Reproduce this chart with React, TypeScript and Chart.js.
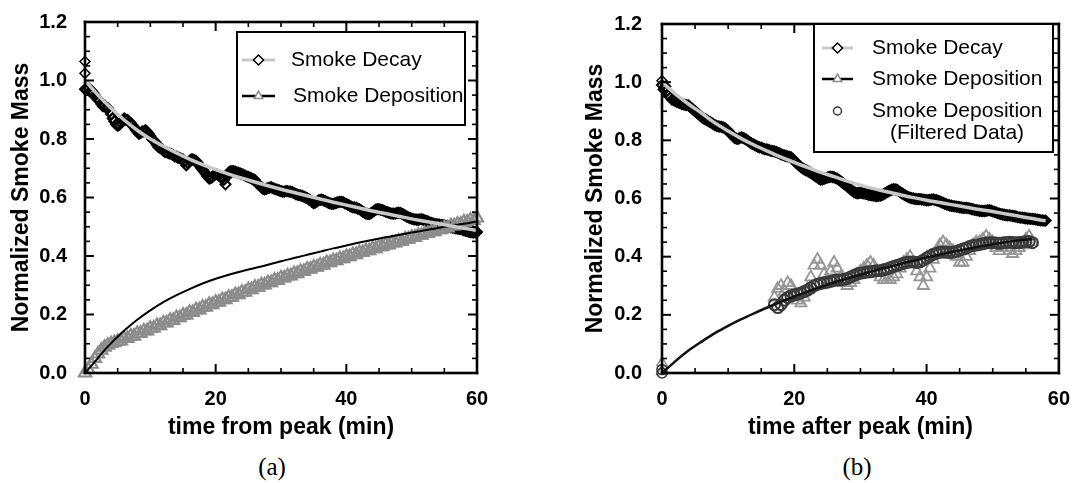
import React, { useEffect, useRef } from "react";
import { Chart, registerables } from "chart.js";
import { drawPoint } from "chart.js/helpers";

Chart.register(...registerables);

// ---------------- DATA ----------------
const X_MIN = 0;
const X_MAX = 60;
const Y_MIN = 0;
const Y_MAX = 1.2;
const X_MAJOR = 20;
const X_MINOR = 5;
const Y_MAJOR = 0.2;
const Y_MINOR = 0.05;

const Y_TITLE = "Normalized Smoke Mass";
const X_TITLE_A = "time from peak (min)";
const X_TITLE_B = "time after peak (min)";
const LEGEND_A = ["Smoke Decay", "Smoke Deposition"];
const LEGEND_B = ["Smoke Decay", "Smoke Deposition", "Smoke Deposition", "(Filtered Data)"];
const CAPTIONS = ["(a)", "(b)"];

// Panel (a): measured data, two interleaved reading sets, each every 0.5 min
const SAMPLE_STEP = 0.5;
const decayA = [
  0.97, 0.975, 0.965, 0.95, 0.935, 0.92, 0.915, 0.905, 0.885, 0.86,
  0.845, 0.855, 0.87, 0.865, 0.855, 0.84, 0.825, 0.82, 0.825, 0.825,
  0.81, 0.795, 0.78, 0.77, 0.76, 0.755, 0.75, 0.745, 0.74, 0.735,
  0.73, 0.71, 0.725, 0.73, 0.725, 0.71, 0.695, 0.68, 0.665, 0.67,
  0.68, 0.675, 0.665, 0.645, 0.685, 0.69, 0.688, 0.685, 0.68, 0.675,
  0.67, 0.665, 0.66, 0.645, 0.635, 0.628, 0.632, 0.635, 0.63, 0.626,
  0.622, 0.62, 0.622, 0.62, 0.615, 0.61, 0.607, 0.603, 0.598, 0.59,
  0.58, 0.586, 0.592, 0.59, 0.585, 0.58, 0.578, 0.582, 0.585, 0.584,
  0.578, 0.572, 0.566, 0.565, 0.56, 0.552, 0.545, 0.543, 0.55, 0.558,
  0.56, 0.557, 0.552, 0.548, 0.545, 0.545, 0.548, 0.545, 0.538, 0.532,
  0.528, 0.525, 0.524, 0.526, 0.522, 0.518, 0.513, 0.51, 0.508, 0.506,
  0.505, 0.502, 0.498, 0.496, 0.494, 0.492, 0.488, 0.485, 0.482, 0.48,
  0.482,
];
const decayA2Start = 0.25;
const decayA2 = [
  0.968, 0.962, 0.958, 0.94, 0.93, 0.912, 0.908, 0.895, 0.87, 0.85,
  0.848, 0.862, 0.866, 0.858, 0.848, 0.832, 0.818, 0.826, 0.83, 0.818,
  0.8, 0.79, 0.772, 0.766, 0.755, 0.752, 0.748, 0.74, 0.736, 0.732,
  0.722, 0.718, 0.73, 0.728, 0.718, 0.702, 0.688, 0.672, 0.666, 0.676,
  0.678, 0.67, 0.66, 0.672, 0.69, 0.69, 0.686, 0.682, 0.678, 0.672,
  0.668, 0.662, 0.652, 0.64, 0.63, 0.63, 0.634, 0.632, 0.628, 0.624,
  0.62, 0.622, 0.62, 0.618, 0.612, 0.608, 0.605, 0.6, 0.594, 0.585,
  0.583, 0.59, 0.593, 0.588, 0.582, 0.578, 0.58, 0.584, 0.585, 0.58,
  0.575, 0.569, 0.566, 0.562, 0.556, 0.548, 0.544, 0.546, 0.554, 0.56,
  0.558, 0.555, 0.55, 0.546, 0.545, 0.547, 0.547, 0.542, 0.535, 0.53,
  0.526, 0.524, 0.525, 0.524, 0.52, 0.515, 0.511, 0.509, 0.507, 0.505,
  0.503, 0.5, 0.497, 0.495, 0.493, 0.49, 0.486, 0.483, 0.481, 0.481,
];
const decayAStartT = [0, 0];
const decayAStart = [1.065, 1.025];

const depositionA = [
  0.0, 0.012, 0.03, 0.05, 0.065, 0.078, 0.088, 0.095, 0.1, 0.104,
  0.108, 0.11, 0.118, 0.118, 0.126, 0.126, 0.135, 0.135, 0.144, 0.144,
  0.153, 0.153, 0.162, 0.162, 0.171, 0.171, 0.18, 0.18, 0.189, 0.189,
  0.198, 0.198, 0.207, 0.207, 0.216, 0.216, 0.225, 0.225, 0.234, 0.234,
  0.242, 0.242, 0.251, 0.251, 0.259, 0.259, 0.268, 0.268, 0.276, 0.276,
  0.285, 0.285, 0.293, 0.293, 0.301, 0.301, 0.309, 0.309, 0.317, 0.317,
  0.325, 0.325, 0.332, 0.332, 0.34, 0.34, 0.347, 0.347, 0.355, 0.355,
  0.362, 0.362, 0.369, 0.369, 0.377, 0.377, 0.384, 0.384, 0.391, 0.391,
  0.398, 0.398, 0.405, 0.405, 0.412, 0.412, 0.418, 0.418, 0.425, 0.425,
  0.432, 0.432, 0.438, 0.438, 0.445, 0.445, 0.451, 0.451, 0.458, 0.458,
  0.464, 0.464, 0.471, 0.471, 0.477, 0.477, 0.483, 0.483, 0.49, 0.49,
  0.496, 0.496, 0.503, 0.503, 0.509, 0.509, 0.516, 0.516, 0.522, 0.522,
  0.53,
];

// Panel (a): fitted curves
const fitDecayATime = [0, 2, 4, 6, 8, 10, 12, 14, 16, 18, 20, 22, 24, 26, 28, 30, 32, 34, 36, 38, 40, 42, 44, 46, 48, 50, 52, 54, 56, 58, 60];
const fitDecayA = [1.0, 0.95, 0.905, 0.865, 0.83, 0.8, 0.775, 0.752, 0.731, 0.712, 0.695, 0.68, 0.666, 0.653, 0.64, 0.628, 0.617, 0.606, 0.595, 0.584, 0.574, 0.564, 0.554, 0.545, 0.536, 0.527, 0.519, 0.511, 0.503, 0.495, 0.487];
const fitDepATime = [0, 1, 2, 3, 4, 5, 6, 8, 10, 12, 14, 16, 18, 20, 22, 24, 26, 28, 30, 32, 34, 36, 38, 40, 42, 44, 46, 48, 50, 52, 54, 56, 58, 60];
const fitDepA = [0, 0.025, 0.052, 0.078, 0.102, 0.124, 0.145, 0.182, 0.214, 0.242, 0.266, 0.287, 0.306, 0.322, 0.336, 0.348, 0.359, 0.37, 0.382, 0.393, 0.404, 0.415, 0.426, 0.436, 0.446, 0.455, 0.464, 0.472, 0.48, 0.488, 0.496, 0.503, 0.51, 0.518];

// Panel (b): measured decay, two interleaved sets every 0.5 min
const decayB = [
  0.99, 0.985, 0.955, 0.94, 0.935, 0.93, 0.925, 0.922, 0.92, 0.91,
  0.9, 0.89, 0.88, 0.873, 0.866, 0.86, 0.852, 0.848, 0.846, 0.842,
  0.832, 0.82, 0.808, 0.805, 0.81, 0.806, 0.798, 0.79, 0.784, 0.778,
  0.775, 0.77, 0.768, 0.764, 0.762, 0.758, 0.752, 0.748, 0.745, 0.742,
  0.73, 0.718, 0.708, 0.7, 0.695, 0.688, 0.68, 0.672, 0.665, 0.668,
  0.672, 0.675, 0.673, 0.668, 0.66, 0.65, 0.642, 0.632, 0.622, 0.618,
  0.62, 0.618, 0.615, 0.612, 0.61, 0.608, 0.61, 0.615, 0.622, 0.628,
  0.632, 0.63, 0.622, 0.615, 0.608, 0.603, 0.6, 0.598, 0.598, 0.596,
  0.594, 0.595, 0.597, 0.594, 0.59, 0.585, 0.58, 0.576, 0.574, 0.572,
  0.57, 0.568, 0.568, 0.566, 0.563, 0.56, 0.558, 0.557, 0.558, 0.56,
  0.556, 0.552, 0.548, 0.545, 0.543, 0.542, 0.54, 0.538, 0.535, 0.534,
  0.532, 0.531, 0.53, 0.528, 0.526, 0.525,
  0.524,
];
const decayB2Start = 0.25;
const decayB2 = [
  0.975, 0.97, 0.948, 0.938, 0.932, 0.928, 0.924, 0.921, 0.915, 0.905,
  0.895, 0.885, 0.876, 0.87, 0.863, 0.856, 0.85, 0.847, 0.844, 0.837,
  0.826, 0.814, 0.806, 0.808, 0.808, 0.802, 0.794, 0.787, 0.781, 0.776,
  0.772, 0.769, 0.766, 0.763, 0.76, 0.755, 0.75, 0.746, 0.743, 0.736,
  0.724, 0.713, 0.704, 0.697, 0.691, 0.684, 0.676, 0.668, 0.666, 0.67,
  0.674, 0.674, 0.67, 0.664, 0.655, 0.646, 0.637, 0.627, 0.62, 0.619,
  0.619, 0.616, 0.613, 0.611, 0.609, 0.609, 0.612, 0.618, 0.625, 0.63,
  0.631, 0.626, 0.618, 0.611, 0.605, 0.601, 0.599, 0.598, 0.597, 0.595,
  0.594, 0.596, 0.595, 0.592, 0.587, 0.582, 0.578, 0.575, 0.573, 0.571,
  0.569, 0.568, 0.567, 0.564, 0.561, 0.559, 0.557, 0.557, 0.559, 0.558,
  0.554, 0.55, 0.546, 0.544, 0.542, 0.541, 0.539, 0.536, 0.534, 0.533,
  0.531, 0.53, 0.529, 0.527, 0.525, 0.524,
];
const decayBStartT = [0];
const decayBStart = [1.005];

// Panel (b): deposition from t = 17 min, every 0.5 min
const depBStart = 17;
const depositionB = [
  0.26, 0.29, 0.3, 0.28, 0.31, 0.3, 0.27, 0.25, 0.24, 0.26,
  0.29, 0.33, 0.37, 0.39, 0.37, 0.34, 0.32, 0.35, 0.38, 0.36,
  0.33, 0.31, 0.3, 0.31, 0.32, 0.34, 0.35, 0.36, 0.37, 0.38,
  0.37, 0.35, 0.33, 0.32, 0.32, 0.32, 0.33, 0.34, 0.36, 0.38,
  0.39, 0.4, 0.38, 0.35, 0.33, 0.3, 0.33, 0.36, 0.39, 0.42,
  0.44, 0.45, 0.44, 0.43, 0.42, 0.4, 0.38, 0.38, 0.4, 0.42,
  0.44, 0.45, 0.45, 0.46, 0.47, 0.46, 0.45, 0.43, 0.42, 0.43,
  0.44, 0.42, 0.41, 0.42, 0.43, 0.44, 0.46, 0.47, 0.45,
];
const filteredB = [
  0.235, 0.225, 0.235, 0.25, 0.26, 0.265, 0.268, 0.272, 0.275, 0.28,
  0.285, 0.292, 0.3, 0.305, 0.308, 0.31, 0.312, 0.315, 0.318, 0.32,
  0.32, 0.322, 0.325, 0.33, 0.335, 0.34, 0.343, 0.345, 0.347, 0.348,
  0.35, 0.352, 0.352, 0.355, 0.358, 0.362, 0.366, 0.37, 0.373, 0.377,
  0.38, 0.382, 0.382, 0.38, 0.382, 0.388, 0.395, 0.402, 0.408, 0.412,
  0.415, 0.416, 0.415, 0.414, 0.415, 0.418, 0.422, 0.426, 0.43, 0.435,
  0.438, 0.44, 0.442, 0.444, 0.447, 0.448, 0.448, 0.447, 0.446, 0.447,
  0.449, 0.45, 0.449, 0.448, 0.449, 0.45, 0.452, 0.452, 0.448,
];
const depBZeroT = [0, 0];
const depBZero = [0.035, 0.005];
const filtBZeroT = [0, 0];
const filtBZero = [0.0, 0.012];

// Panel (b): fitted curves
const fitDecayBTime = [0, 2, 4, 6, 8, 10, 12, 14, 16, 18, 20, 22, 24, 26, 28, 30, 32, 34, 36, 38, 40, 42, 44, 46, 48, 50, 52, 54, 56, 58];
const fitDecayB = [1.0, 0.96, 0.925, 0.893, 0.86, 0.832, 0.806, 0.783, 0.762, 0.742, 0.724, 0.707, 0.69, 0.675, 0.66, 0.646, 0.634, 0.623, 0.613, 0.603, 0.594, 0.586, 0.578, 0.57, 0.562, 0.555, 0.547, 0.539, 0.531, 0.523];
const fitDepBTime = [0, 2, 4, 6, 8, 10, 12, 14, 16, 18, 20, 22, 24, 26, 28, 30, 32, 34, 36, 38, 40, 42, 44, 46, 48, 50, 52, 54, 56];
const fitDepB = [0, 0.04, 0.077, 0.108, 0.137, 0.162, 0.185, 0.206, 0.226, 0.245, 0.263, 0.28, 0.296, 0.311, 0.325, 0.338, 0.351, 0.363, 0.375, 0.386, 0.397, 0.407, 0.417, 0.426, 0.435, 0.443, 0.45, 0.456, 0.461];

// ---------------- HELPERS ----------------
const SANS = '"Liberation Sans", Arial, Helvetica, sans-serif';
const SERIF = '"Liberation Serif", "Times New Roman", serif';

const sampled = (t0: number, step: number, vals: number[]) =>
  vals.map((v, i) => ({ x: t0 + i * step, y: v }));
const paired = (ts: number[], vals: number[]) => vals.map((v, i) => ({ x: ts[i], y: v }));

const C_DECAY_FIT = "#c8c8c8";
const C_TRI = "#8c8c8c";
const C_CIRC = "#3a3a3a";

function markerSet(data: any[], style: string, radius: number, color: string, order: number, bw = 1.4) {
  return {
    data,
    showLine: false,
    pointStyle: style,
    pointRadius: radius,
    pointBorderColor: color,
    pointBackgroundColor: "rgba(0,0,0,0)",
    pointBorderWidth: bw,
    clip: false,
    order,
  };
}
function fitLine(data: any[], color: string, width: number, order: number) {
  return {
    data,
    showLine: true,
    borderColor: color,
    borderWidth: width,
    pointRadius: 0,
    cubicInterpolationMode: "monotone",
    clip: false,
    order,
  };
}

const frameTicks = {
  id: "frameTicks",
  afterDraw(chart: any) {
    const ctx: CanvasRenderingContext2D = chart.ctx;
    const area = chart.chartArea;
    const left = area.left;
    const right = area.right;
    const top = area.top;
    const bottom = area.bottom;
    const xs = chart.scales["x"];
    const ys = chart.scales["y"];
    ctx.save();
    ctx.fillStyle = "#000";
    const nx = Math.round((X_MAX - X_MIN) / X_MINOR);
    const xEvery = Math.round(X_MAJOR / X_MINOR);
    for (let k = 0; k <= nx; k++) {
      const v = X_MIN + k * X_MINOR;
      const major = k % xEvery === 0;
      const len = major ? 9 : 5;
      const w = major ? 2 : 1.6;
      const px = xs.getPixelForValue(v);
      ctx.fillRect(px - w / 2, bottom - len, w, len);
      ctx.fillRect(px - w / 2, top, w, len);
    }
    const ny = Math.round((Y_MAX - Y_MIN) / Y_MINOR);
    const yEvery = Math.round(Y_MAJOR / Y_MINOR);
    for (let k = 0; k <= ny; k++) {
      const v = Y_MIN + k * Y_MINOR;
      const major = k % yEvery === 0;
      const len = major ? 9 : 5;
      const w = major ? 2 : 1.6;
      const py = ys.getPixelForValue(v);
      ctx.fillRect(left, py - w / 2, len, w);
      ctx.fillRect(right - len, py - w / 2, len, w);
    }
    const lw = 2.6;
    ctx.fillRect(left - lw / 2, top - lw / 2, right - left + lw, lw);
    ctx.fillRect(left - lw / 2, bottom - lw / 2, right - left + lw, lw);
    ctx.fillRect(left - lw / 2, top - lw / 2, lw, bottom - top + lw);
    ctx.fillRect(right - lw / 2, top - lw / 2, lw, bottom - top + lw);
    ctx.restore();
  },
};

type LegendRow = {
  y: number;
  text: string;
  tx: number;
  align?: "left" | "center";
  line?: { color: string; width: number };
  marker?: { style: string; r: number; color: string };
};
type LegendSpec = { box: [number, number, number, number]; sx1: number; sx2: number; rows: LegendRow[] };

function makeLegend(spec: LegendSpec) {
  return {
    id: "boxLegend",
    afterDraw(chart: any) {
      const ctx = chart.ctx;
      const [x1, y1, x2, y2] = spec.box;
      ctx.save();
      ctx.fillStyle = "#fff";
      ctx.fillRect(x1, y1, x2 - x1, y2 - y1);
      ctx.strokeStyle = "#000";
      ctx.lineWidth = 2;
      ctx.strokeRect(x1, y1, x2 - x1, y2 - y1);
      const mx = (spec.sx1 + spec.sx2) / 2;
      for (const row of spec.rows) {
        if (row.line) {
          ctx.strokeStyle = row.line.color;
          ctx.lineWidth = row.line.width;
          ctx.beginPath();
          ctx.moveTo(spec.sx1, row.y);
          ctx.lineTo(spec.sx2, row.y);
          ctx.stroke();
        }
        if (row.marker) {
          ctx.fillStyle = "#fff";
          ctx.strokeStyle = row.marker.color;
          ctx.lineWidth = 1.5;
          drawPoint(ctx, { pointStyle: row.marker.style as any, radius: row.marker.r, rotation: 0, borderWidth: 1.5 }, mx, row.y);
        }
        ctx.fillStyle = "#000";
        ctx.font = `21px ${SANS}`;
        ctx.textBaseline = "middle";
        ctx.textAlign = row.align || "left";
        ctx.fillText(row.text, row.tx, row.y);
      }
      ctx.restore();
    },
  };
}

function makeConfig(p: {
  datasets: any[];
  yWidth: number;
  padRight: number;
  yTitlePad: number;
  yTickPad: number;
  xTitle: string;
  legend: LegendSpec;
}) {
  const tickFont = { family: SANS, size: 20, weight: "bold" as const };
  const titleFont = { family: SANS, size: 23, weight: "bold" as const };
  return {
    type: "scatter" as const,
    data: { datasets: p.datasets },
    options: {
      animation: false as const,
      responsive: false,
      events: [],
      layout: { padding: { left: 0, top: 16, right: p.padRight, bottom: 0 } },
      plugins: { legend: { display: false }, tooltip: { enabled: false } },
      scales: {
        x: {
          type: "linear" as const,
          min: X_MIN,
          max: X_MAX,
          afterFit: (s: any) => {
            s.height = 77;
          },
          grid: { display: false },
          border: { display: false },
          ticks: {
            stepSize: X_MAJOR,
            padding: 6,
            color: "#000",
            font: tickFont,
            maxRotation: 0,
            autoSkip: false,
            callback: (v: any) => String(Math.round(Number(v))),
          },
          title: { display: true, text: p.xTitle, color: "#000", font: titleFont, padding: { top: 0, bottom: 9 } },
        },
        y: {
          type: "linear" as const,
          min: Y_MIN,
          max: Y_MAX,
          afterFit: (s: any) => {
            s.width = p.yWidth;
          },
          grid: { display: false },
          border: { display: false },
          ticks: {
            stepSize: Y_MAJOR,
            padding: p.yTickPad,
            color: "#000",
            font: tickFont,
            autoSkip: false,
            callback: (v: any) => Number(v).toFixed(1),
          },
          title: { display: true, text: Y_TITLE, color: "#000", font: titleFont, padding: { top: p.yTitlePad, bottom: 0 } },
        },
      },
    },
    plugins: [frameTicks, makeLegend(p.legend)],
  };
}

function configA() {
  return makeConfig({
    yWidth: 85,
    padRight: 540 - 477,
    yTitlePad: 8,
    yTickPad: 10,
    xTitle: X_TITLE_A,
    datasets: [
      fitLine(paired(fitDecayATime, fitDecayA), C_DECAY_FIT, 3.5, 0),
      fitLine(paired(fitDepATime, fitDepA), "#000", 2, 1),
      markerSet(sampled(0, SAMPLE_STEP, depositionA), "triangle", 7, C_TRI, 2, 2.2),
      markerSet(sampled(0, SAMPLE_STEP, decayA), "rectRot", 5, "#000", 3, 2),
      markerSet(sampled(decayA2Start, SAMPLE_STEP, decayA2), "rectRot", 5, "#000", 3, 2),
      markerSet(paired(decayAStartT, decayAStart), "rectRot", 5, "#000", 3, 1.5),
    ],
    legend: {
      box: [237, 32, 465, 125],
      sx1: 242,
      sx2: 275,
      rows: [
        { y: 60, text: LEGEND_A[0], tx: 291, line: { color: C_DECAY_FIT, width: 3 }, marker: { style: "rectRot", r: 5, color: "#000" } },
        { y: 96, text: LEGEND_A[1], tx: 293, line: { color: "#000", width: 2.5 }, marker: { style: "triangle", r: 5, color: C_TRI } },
      ],
    },
  });
}

function configB() {
  return makeConfig({
    yWidth: 122,
    padRight: 536 - 523,
    yTitlePad: 42,
    yTickPad: 12,
    xTitle: X_TITLE_B,
    datasets: [
      fitLine(paired(fitDecayBTime, fitDecayB), C_DECAY_FIT, 3.5, 0),
      fitLine(paired(fitDepBTime, fitDepB), "#111", 2.5, 1),
      markerSet(sampled(depBStart, SAMPLE_STEP, filteredB), "circle", 5.5, C_CIRC, 2, 2),
      markerSet(paired(filtBZeroT, filtBZero), "circle", 5, C_CIRC, 2, 1.6),
      markerSet(sampled(depBStart, SAMPLE_STEP, depositionB), "triangle", 6.5, "#969696", 3, 1.8),
      markerSet(paired(depBZeroT, depBZero), "triangle", 6, "#969696", 3, 1.6),
      markerSet(sampled(0, SAMPLE_STEP, decayB), "rectRot", 5, "#000", 4, 2),
      markerSet(sampled(decayB2Start, SAMPLE_STEP, decayB2), "rectRot", 5, "#000", 4, 2),
      markerSet(paired(decayBStartT, decayBStart), "rectRot", 5, "#000", 4, 1.5),
    ],
    legend: {
      box: [274, 24, 513, 152],
      sx1: 282,
      sx2: 313,
      rows: [
        { y: 48, text: LEGEND_B[0], tx: 332, line: { color: C_DECAY_FIT, width: 3 }, marker: { style: "rectRot", r: 5, color: "#000" } },
        { y: 79, text: LEGEND_B[1], tx: 332, line: { color: "#000", width: 2.5 }, marker: { style: "triangle", r: 5, color: C_TRI } },
        { y: 111, text: LEGEND_B[2], tx: 332, marker: { style: "circle", r: 4, color: C_CIRC } },
        { y: 133, text: LEGEND_B[3], tx: 417, align: "center" },
      ],
    },
  });
}

function Panel({ left, width, make }: { left: number; width: number; make: () => any }) {
  const ref = useRef<HTMLCanvasElement>(null);
  useEffect(() => {
    if (!ref.current) return;
    const chart = new Chart(ref.current, make());
    return () => chart.destroy();
  }, []);
  return (
    <canvas
      ref={ref}
      width={width}
      height={450}
      style={{ position: "absolute", left, top: 0, width, height: 450 }}
    />
  );
}

export default function App() {
  const capStyle = (cx: number): React.CSSProperties => ({
    position: "absolute",
    left: cx,
    top: 454,
    transform: "translateX(-50%)",
    fontFamily: SERIF,
    fontSize: 25,
    lineHeight: "26px",
    color: "#000",
  });
  return (
    <div style={{ position: "fixed", left: 0, top: 0, width: 1076, height: 483, background: "#fff", overflow: "hidden" }}>
      <Panel left={0} width={540} make={configA} />
      <Panel left={540} width={536} make={configB} />
      <div style={capStyle(272)}>{CAPTIONS[0]}</div>
      <div style={capStyle(857)}>{CAPTIONS[1]}</div>
    </div>
  );
}
